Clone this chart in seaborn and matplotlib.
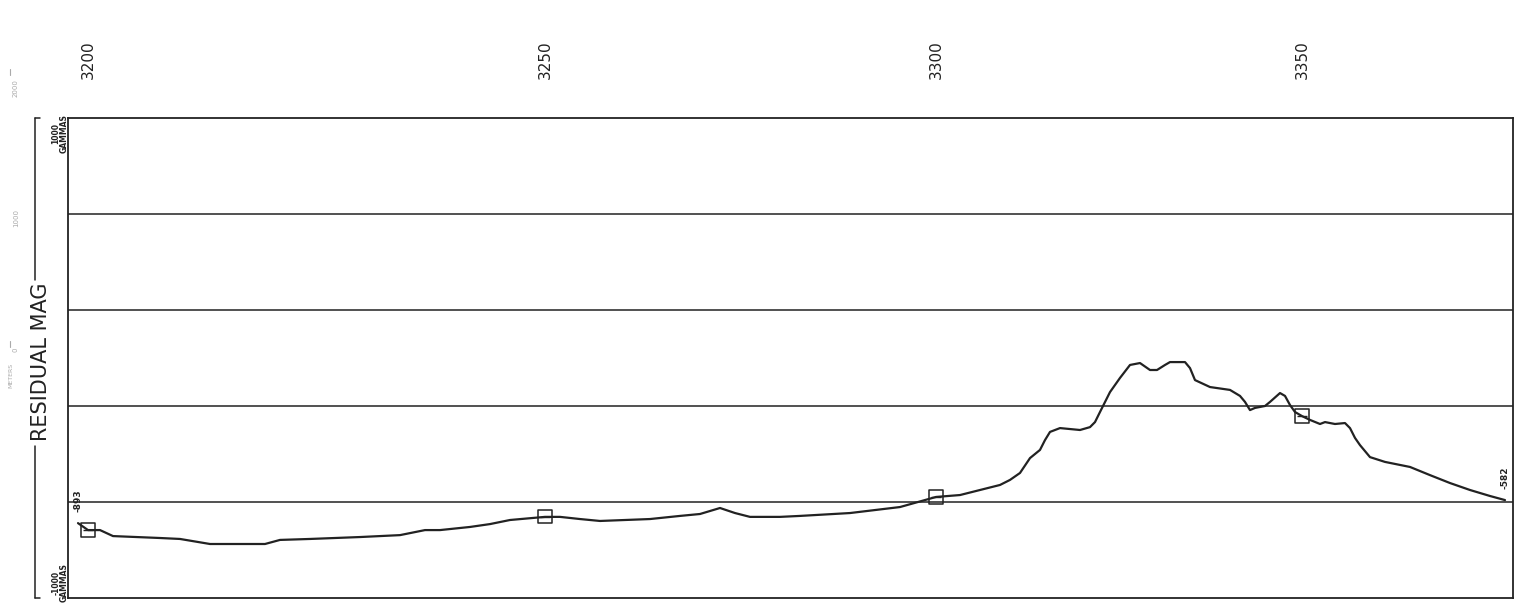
import numpy as np
import pandas as pd
import seaborn as sns
import matplotlib.pyplot as plt
from matplotlib.lines import Line2D

# profile data: distance along track (arbitrary units) vs residual magnetics (gammas)
dist = [1.0, 2.0, 3.2, 4.5, 9.2, 11.2, 14.2, 19.7, 21.2, 24.2, 29.2, 33.2, 35.7, 37.2,
        40.2, 42.2, 44.2, 47.7, 49.2, 51.2, 53.2, 58.2, 61.2, 63.2, 65.2, 66.7, 68.2,
        71.2, 73.2, 78.2, 83.2, 86.8, 89.2, 91.2, 93.2, 94.2, 95.2, 96.2, 97.2, 97.7,
        98.2, 99.2, 101.2, 102.2, 102.7, 103.2, 104.2, 105.2, 106.2, 107.2, 108.2,
        108.9, 109.7, 110.2, 111.7, 112.2, 112.7, 114.2, 116.2, 117.2, 117.7, 118.2,
        118.7, 119.7, 120.2, 121.2, 121.7, 122.2, 122.7, 123.4, 124.2, 125.2, 125.7,
        126.7, 127.7, 128.2, 128.7, 129.2, 130.2, 131.7, 134.2, 136.2, 138.2, 140.2,
        142.2, 143.7]
mag = [-688, -717, -717, -742, -750, -754, -775, -775, -758, -754, -746, -738, -717,
       -717, -704, -692, -675, -662, -662, -671, -679, -671, -658, -650, -625, -646,
       -662, -662, -658, -646, -621, -579, -571, -550, -529, -508, -479, -417, -383,
       -342, -308, -292, -300, -288, -267, -225, -142, -83, -29, -21, -50, -50, -29,
       -17, -17, -42, -92, -121, -133, -158, -183, -217, -208, -200, -183, -146, -158,
       -196, -225, -242, -258, -275, -267, -275, -271, -292, -333, -363, -413, -433,
       -454, -488, -521, -550, -575, -592]

# fix (shot point) positions and their values
fix_dist = [2.0, 47.7, 86.8, 123.4]
fix_mag = [-717, -662, -579, -242]
fix_labels = ["3200", "3250", "3300", "3350"]

grid_levels = [-600, -200, 200, 600]
start_label = "-893"
end_label = "-582"

df = pd.DataFrame({"dist": dist, "mag": mag})
fixes = pd.DataFrame({"dist": fix_dist, "mag": fix_mag})

sns.set_style("white")
plt.rcParams["font.family"] = ["DejaVu Sans"]
ink = "#222222"

fig = plt.figure(figsize=(15.16, 6.03), dpi=100)
ax = fig.add_axes([68 / 1516, 5 / 603, (1513 - 68) / 1516, (598 - 118) / 603])

sns.lineplot(data=df, x="dist", y="mag", ax=ax, color=ink, lw=1.6, sort=False)
sns.scatterplot(data=fixes, x="dist", y="mag", ax=ax, marker="s", s=90,
                facecolor="none", edgecolor=ink, linewidth=1.1, zorder=5)
sns.scatterplot(data=fixes, x="dist", y="mag", ax=ax, marker="_", s=60,
                color=ink, linewidth=1.0, zorder=5)

ax.set_xlim(0, 144.5)
ax.set_ylim(-1000, 1000)
for lv in grid_levels:
    ax.axhline(lv, color=ink, lw=1.1, zorder=1)

ax.xaxis.tick_top()
ax.set_xticks(fix_dist)
ax.set_xticklabels(fix_labels, rotation=90, fontsize=11, color=ink)
ax.tick_params(axis="x", length=0, pad=28)
ax.set_yticks([])
ax.set_xlabel("")
ax.set_ylabel("")
for s in ax.spines.values():
    s.set_color(ink)
    s.set_linewidth(1.3)

# end-point values
ax.annotate(start_label, (dist[0], mag[0]), xytext=(0, 8), textcoords="offset points",
            rotation=90, fontsize=6.5, fontweight="bold", color=ink, ha="center", va="bottom")
ax.annotate(end_label, (dist[-1], mag[-1]), xytext=(0, 8), textcoords="offset points",
            rotation=90, fontsize=6.5, fontweight="bold", color=ink, ha="center", va="bottom")


def fx(px):
    return px / 1516


def fy(py):
    return 1 - py / 603


# left margin scale text
fig.text(fx(60), fy(134), "1000\nGAMMAS", rotation=90, fontsize=5.5, fontweight="bold",
         color=ink, ha="center", va="center", linespacing=0.9)
fig.text(fx(60), fy(583), "-1000\nGAMMAS", rotation=90, fontsize=5.5, fontweight="bold",
         color=ink, ha="center", va="center", linespacing=0.9)
fig.text(fx(41), fy(362), "RESIDUAL MAG", rotation=90, fontsize=15, color=ink,
         ha="center", va="center")

# bracket lines around the axis title
for y0, y1 in [(118, 280), (446, 598)]:
    fig.add_artist(Line2D([fx(35), fx(35)], [fy(y0), fy(y1)], color=ink, lw=1.1))
fig.add_artist(Line2D([fx(35), fx(40)], [fy(118), fy(118)], color=ink, lw=1.1))
fig.add_artist(Line2D([fx(35), fx(40)], [fy(598), fy(598)], color=ink, lw=1.1))

# faint depth scale
faint = "#aaaaaa"
fig.text(fx(16), fy(88), "2000", rotation=90, fontsize=5, color=faint, ha="center", va="center")
fig.text(fx(16), fy(218), "1000", rotation=90, fontsize=5, color=faint, ha="center", va="center")
fig.text(fx(16), fy(350), "0", rotation=90, fontsize=5, color=faint, ha="center", va="center")
fig.text(fx(11), fy(375), "METERS", rotation=90, fontsize=4.5, color=faint, ha="center", va="center")
for py in [72, 344]:
    fig.add_artist(Line2D([fx(10), fx(10)], [fy(py - 3), fy(py + 3)], color=faint, lw=0.8))

fig.savefig("out.png", dpi=100)
